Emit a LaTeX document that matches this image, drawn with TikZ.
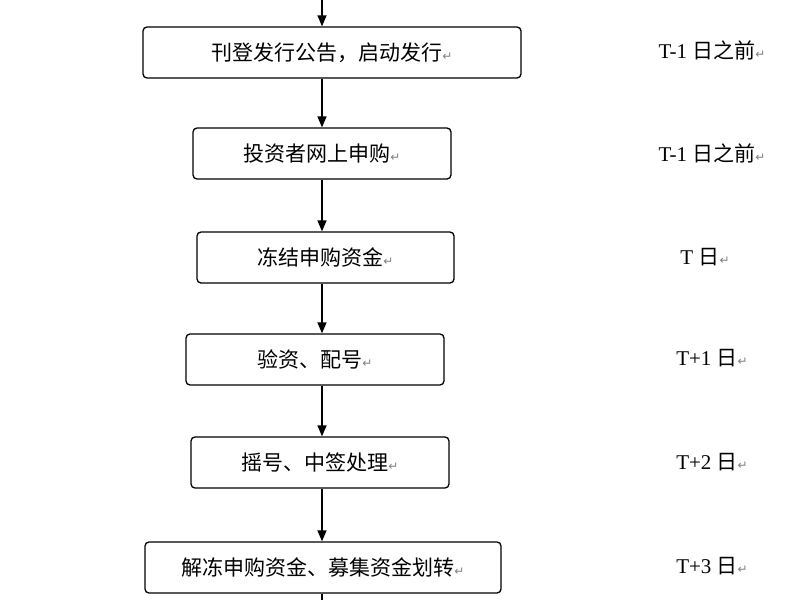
\documentclass[tikz,border=0pt]{standalone}
\usepackage{fontspec}
\setmainfont{Liberation Serif}
\newfontfamily\cjk{Noto Sans CJK SC}
\newfontfamily\sym{DejaVu Sans}
\usetikzlibrary{arrows.meta}
\newcommand{\pmark}{{\sym\fontsize{12}{12}\selectfont\color{gray}↵}}
\tikzset{
  stepbox/.style={draw,line width=1.3pt,rounded corners=4pt,minimum height=51pt,font=\cjk\fontsize{21}{23}\selectfont},
  daylbl/.style={font=\fontsize{21}{23}\selectfont},
  flow/.style={line width=1.3pt,-{Triangle[length=11pt,width=9pt]}}
}
\begin{document}
\begin{tikzpicture}[x=1pt,y=-1pt]
  \useasboundingbox (0,0) rectangle (800,600);

  % steps
  \node[stepbox,minimum width=378pt] (s1) at (332,52.5) {刊登发行公告，启动发行\pmark};
  \node[stepbox,minimum width=258pt] (s2) at (322,153.5) {投资者网上申购\pmark};
  \node[stepbox,minimum width=257pt] (s3) at (325.5,257.5) {冻结申购资金\pmark};
  \node[stepbox,minimum width=258pt] (s4) at (315,359.5) {验资、配号\pmark};
  \node[stepbox,minimum width=258pt] (s5) at (320,462.5) {摇号、中签处理\pmark};
  \node[stepbox,minimum width=356pt] (s6) at (323,567.5) {解冻申购资金、募集资金划转\pmark};

  % days
  \node[daylbl] (d1) at (712,50) {T-1 {\cjk 日之前}\pmark};
  \node[daylbl] (d2) at (712,153) {T-1 {\cjk 日之前}\pmark};
  \node[daylbl] (d3) at (705,257) {T {\cjk 日}\pmark};
  \node[daylbl] (d4) at (712,358) {T+1 {\cjk 日}\pmark};
  \node[daylbl] (d5) at (712,462) {T+2 {\cjk 日}\pmark};
  \node[daylbl] (d6) at (712,566) {T+3 {\cjk 日}\pmark};

  % connectors
  \coordinate (top) at (322,0);
  \coordinate (bot) at (322,600);
  \draw[flow] (top) -- (top |- s1.north);
  \draw[flow] (s1.south -| top) -- (s2.north -| top);
  \draw[flow] (s2.south -| top) -- (s3.north -| top);
  \draw[flow] (s3.south -| top) -- (s4.north -| top);
  \draw[flow] (s4.south -| top) -- (s5.north -| top);
  \draw[flow] (s5.south -| top) -- (s6.north -| top);
  \draw[line width=1.3pt] (s6.south -| top) -- (bot);
\end{tikzpicture}
\end{document}
